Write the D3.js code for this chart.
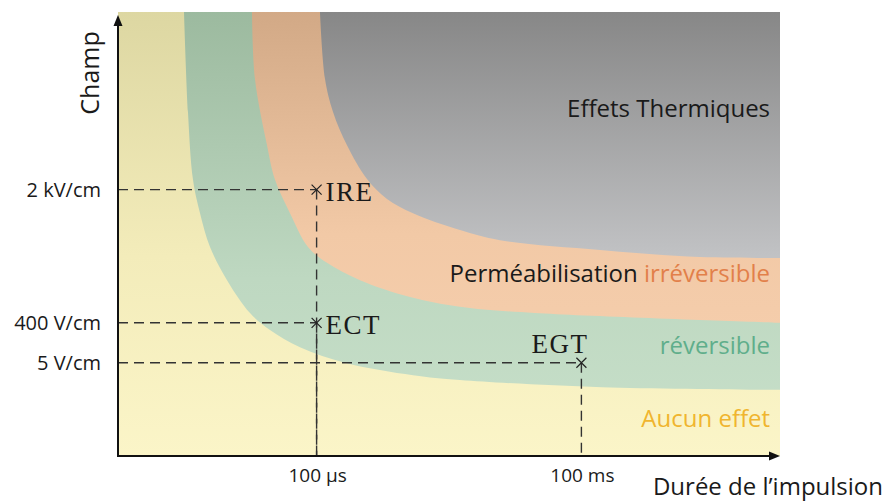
<!DOCTYPE html>
<html><head><meta charset="utf-8">
<script src="https://cdn.jsdelivr.net/npm/d3@7"></script>
<style>html,body{margin:0;padding:0;background:#fff;} svg{display:block;}</style>
</head><body>
<svg id="chart" width="885" height="501"></svg>
<script>
// ---- data (abstract units: duration 0..100, field 0..100) ----
const boundaryReversible = [[9.97,100],[10.57,77.5],[11.33,62.2],[12.39,54.7],[13.9,47.1],[16.47,39.6],[19.94,32.2],[22.96,28.4],[27.49,24.5],[34.59,20.9],[44.56,18.2],[51.66,17.1],[73.11,15.5],[100,14.9]];
const boundaryIrreversible = [[20.24,100],[20.69,84.9],[22.51,70],[23.72,62.2],[25.98,54.7],[28.7,47.1],[31.57,43.5],[36.56,39.6],[44.11,35.8],[51.66,33.6],[62.99,32.2],[100,30]];
const boundaryThermal = [[30.51,100],[31.27,84.9],[32.48,77.5],[34.59,70],[37.61,62.4],[40.63,57.9],[44.56,54.7],[51.66,50.9],[57.7,48.6],[72.81,46.4],[87.92,44.8],[100,44.6]];
const pointNames = ["IRE","ECT","EGT"];
const pointDuration = [30,30,70];
const pointField = [60,30,21];
const xTickValues = [30,70];
const xTickLabels = ["100 µs","100 ms"];
const yTickValues = [60,30,21];
const yTickLabels = ["2 kV/cm","400 V/cm","5 V/cm"];

const svg = d3.select("#chart");
const L=118, R=780, T=12, B=456;
const x = d3.scaleLinear().domain([0,100]).range([L,R]);
const y = d3.scaleLinear().domain([0,100]).range([B,T]);

const defs = svg.append("defs");
function grad(id, stops){
  const g = defs.append("linearGradient").attr("id",id).attr("gradientUnits","userSpaceOnUse")
    .attr("x1",0).attr("x2",0).attr("y1",T).attr("y2",B);
  stops.forEach(s=>g.append("stop").attr("offset",s[0]).attr("stop-color",s[1]));
}
grad("gY",[[0,"#ddd7a2"],[0.55,"#f3ecba"],[1,"#fbf5c8"]]);
grad("gG",[[0,"#9cba9f"],[0.6,"#bed8c1"],[1,"#c8e0ca"]]);
grad("gO",[[0,"#d2a986"],[0.5,"#f2c9a6"],[1,"#f8d2b2"]]);
grad("gR",[[0,"#878787"],[0.55,"#c1c2c4"],[1,"#c4c5c7"]]);

svg.append("rect").attr("x",L).attr("y",T).attr("width",R-L).attr("height",B-T).attr("fill","url(#gY)");
const area = d3.area().x(d=>x(d[0])).y0(y(100)).y1(d=>y(d[1])).curve(d3.curveCatmullRom.alpha(0.5));
svg.append("path").datum(boundaryReversible).attr("d",area).attr("fill","url(#gG)");
svg.append("path").datum(boundaryIrreversible).attr("d",area).attr("fill","url(#gO)");
svg.append("path").datum(boundaryThermal).attr("d",area).attr("fill","url(#gR)");

// region labels
const sans = "'Open Sans', Lato, sans-serif";
const lab = svg.append("g").attr("font-family",sans).attr("font-size",24).attr("text-anchor","end");
lab.append("text").attr("x",x(98.5)).attr("y",y(76.4)).attr("fill","#1a1a1a").text("Effets Thermiques");
const p = lab.append("text").attr("x",x(98.5)).attr("y",y(39.2)).attr("fill","#1a1a1a");
p.append("tspan").text("Perméabilisation ");
p.append("tspan").attr("fill","#e2804a").text("irréversible");
lab.append("text").attr("x",x(98.5)).attr("y",y(23)).attr("fill","#5fae8b").text("réversible");
lab.append("text").attr("x",x(98.5)).attr("y",y(6.5)).attr("fill","#f0b52e").text("Aucun effet");

// dashed guides
const guides = svg.append("g").attr("stroke","#333").attr("stroke-width",1.4).attr("stroke-dasharray","10,6").attr("fill","none");
pointNames.forEach((n,i)=>{
  guides.append("line").attr("x1",x(0)).attr("x2",x(pointDuration[i])).attr("y1",y(pointField[i])).attr("y2",y(pointField[i]));
  guides.append("line").attr("x1",x(pointDuration[i])).attr("x2",x(pointDuration[i])).attr("y1",y(pointField[i])).attr("y2",y(0));
});

// markers
const mk = svg.append("g");
pointNames.forEach((n,i)=>{
  const cx=x(pointDuration[i]), cy=y(pointField[i]), s=5;
  mk.append("path").attr("d",`M${cx-s},${cy-s}L${cx+s},${cy+s}M${cx-s},${cy+s}L${cx+s},${cy-s}`)
    .attr("stroke","#222").attr("stroke-width",1.2);
  const t = mk.append("text").attr("font-family","'Liberation Serif','DejaVu Serif',serif").attr("font-size",27)
    .attr("letter-spacing",1.5).attr("fill","#1a1a1a").text(n);
  if(n==="EGT"){ t.attr("x",cx+7).attr("y",cy-10).attr("text-anchor","end"); }
  else { t.attr("x",cx+9).attr("y",cy+11); }
});

// axes
const ax = svg.append("g").attr("stroke","#111").attr("stroke-width",2);
ax.append("line").attr("x1",L).attr("x2",L).attr("y1",B).attr("y2",T+10);
ax.append("line").attr("x1",L-1).attr("x2",R-8).attr("y1",B).attr("y2",B);
svg.append("path").attr("d",`M${L},${T+3}L${L-4.5},${T+14}L${L+4.5},${T+14}Z`).attr("fill","#111");
svg.append("path").attr("d",`M${R},${B}L${R-11},${B-4.5}L${R-11},${B+4.5}Z`).attr("fill","#111");

// tick labels
const tk = svg.append("g").attr("font-family",sans).attr("fill","#1a1a1a");
yTickValues.forEach((v,i)=>tk.append("text").attr("font-size",20).attr("x",L-17).attr("y",y(v)).attr("dy","0.35em").attr("text-anchor","end").text(yTickLabels[i]));
xTickValues.forEach((v,i)=>tk.append("text").attr("font-size",19).attr("x",x(v)+1).attr("y",B+26).attr("text-anchor","middle").text(xTickLabels[i]));

// axis titles
svg.append("text").attr("font-family",sans).attr("font-size",25).attr("fill","#1a1a1a")
  .attr("transform",`translate(${L-19},${T+61}) rotate(-90)`).attr("text-anchor","middle").text("Champ");
svg.append("text").attr("font-family",sans).attr("font-size",24).attr("fill","#1a1a1a")
  .attr("x",883).attr("y",B+39).attr("text-anchor","end").text("Durée de l’impulsion");
</script>
</body></html>
